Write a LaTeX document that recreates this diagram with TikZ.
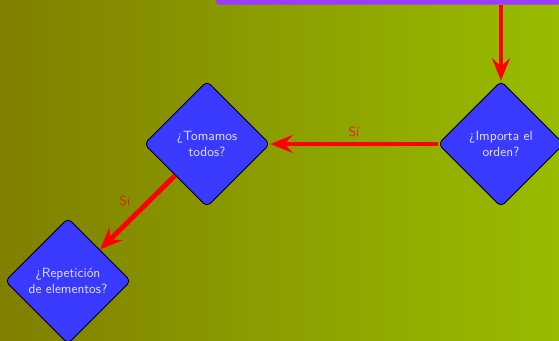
\documentclass[tikz,border=0pt]{standalone}
\usetikzlibrary{shapes.geometric,arrows.meta}
\definecolor{fondoIzq}{RGB}{128,128,0}
\definecolor{fondoDer}{RGB}{152,188,0}
\definecolor{violeta}{RGB}{155,60,250}
\definecolor{azulDecision}{RGB}{58,58,255}
\definecolor{textoDecision}{RGB}{228,228,255}
\definecolor{rojoEtiqueta}{RGB}{225,30,20}
\newcommand{\myfontdecision}{\sffamily\fontsize{9.5}{11.4}\selectfont}
\tikzset{
	decision/.style={diamond, draw=black, semithick, fill=azulDecision, text=textoDecision,
		minimum width=3.15cm, minimum height=3.15cm, aspect=1, inner sep=0pt,
		rounded corners=3.5pt, align=center, font=\myfontdecision},
	flecha/.style={red, line width=3.5pt, -{Stealth[length=16pt,width=13pt,inset=6pt]}},
	etiqueta/.style={text=rojoEtiqueta, font=\myfontdecision}
}
\begin{document}
\begin{tikzpicture}
				%Background
				\shade[left color=fondoIzq, right color=fondoDer] (0,0) rectangle (13.975,8.525);
				\useasboundingbox (0,0) rectangle (13.975,8.525);
				%Previous step, only its lower edge is visible
				\coordinate (esquina) at (5.4,8.4);
				\node [fill=violeta, rounded corners=2pt, anchor=south west, minimum width=10cm, minimum height=1cm] (inicio) at (esquina) {};
				%Centers of the decisions
				\coordinate (centerImporta) at (12.525,4.925);
				\coordinate (centerTomamos) at (5.175,4.925);
				\coordinate (centerRepeticion) at (1.7,1.5);
				%Decisions
				\node [decision] (importa) at (centerImporta) {¿Importa el\\orden?};
				\node [decision] (tomamos) at (centerTomamos) {¿Tomamos\\todos?};
				\node [decision] (repeticion) at (centerRepeticion) {¿Repetición\\de elementos?};
				%Arrows
				\draw [flecha] (inicio.south -| importa.north) -- (importa);
				\draw [flecha] (importa) -- node [etiqueta, above] {Sí} (tomamos);
				\draw [flecha] (tomamos) -- node [etiqueta, above left] {Sí} (repeticion);
				\end{tikzpicture}
\end{document}
